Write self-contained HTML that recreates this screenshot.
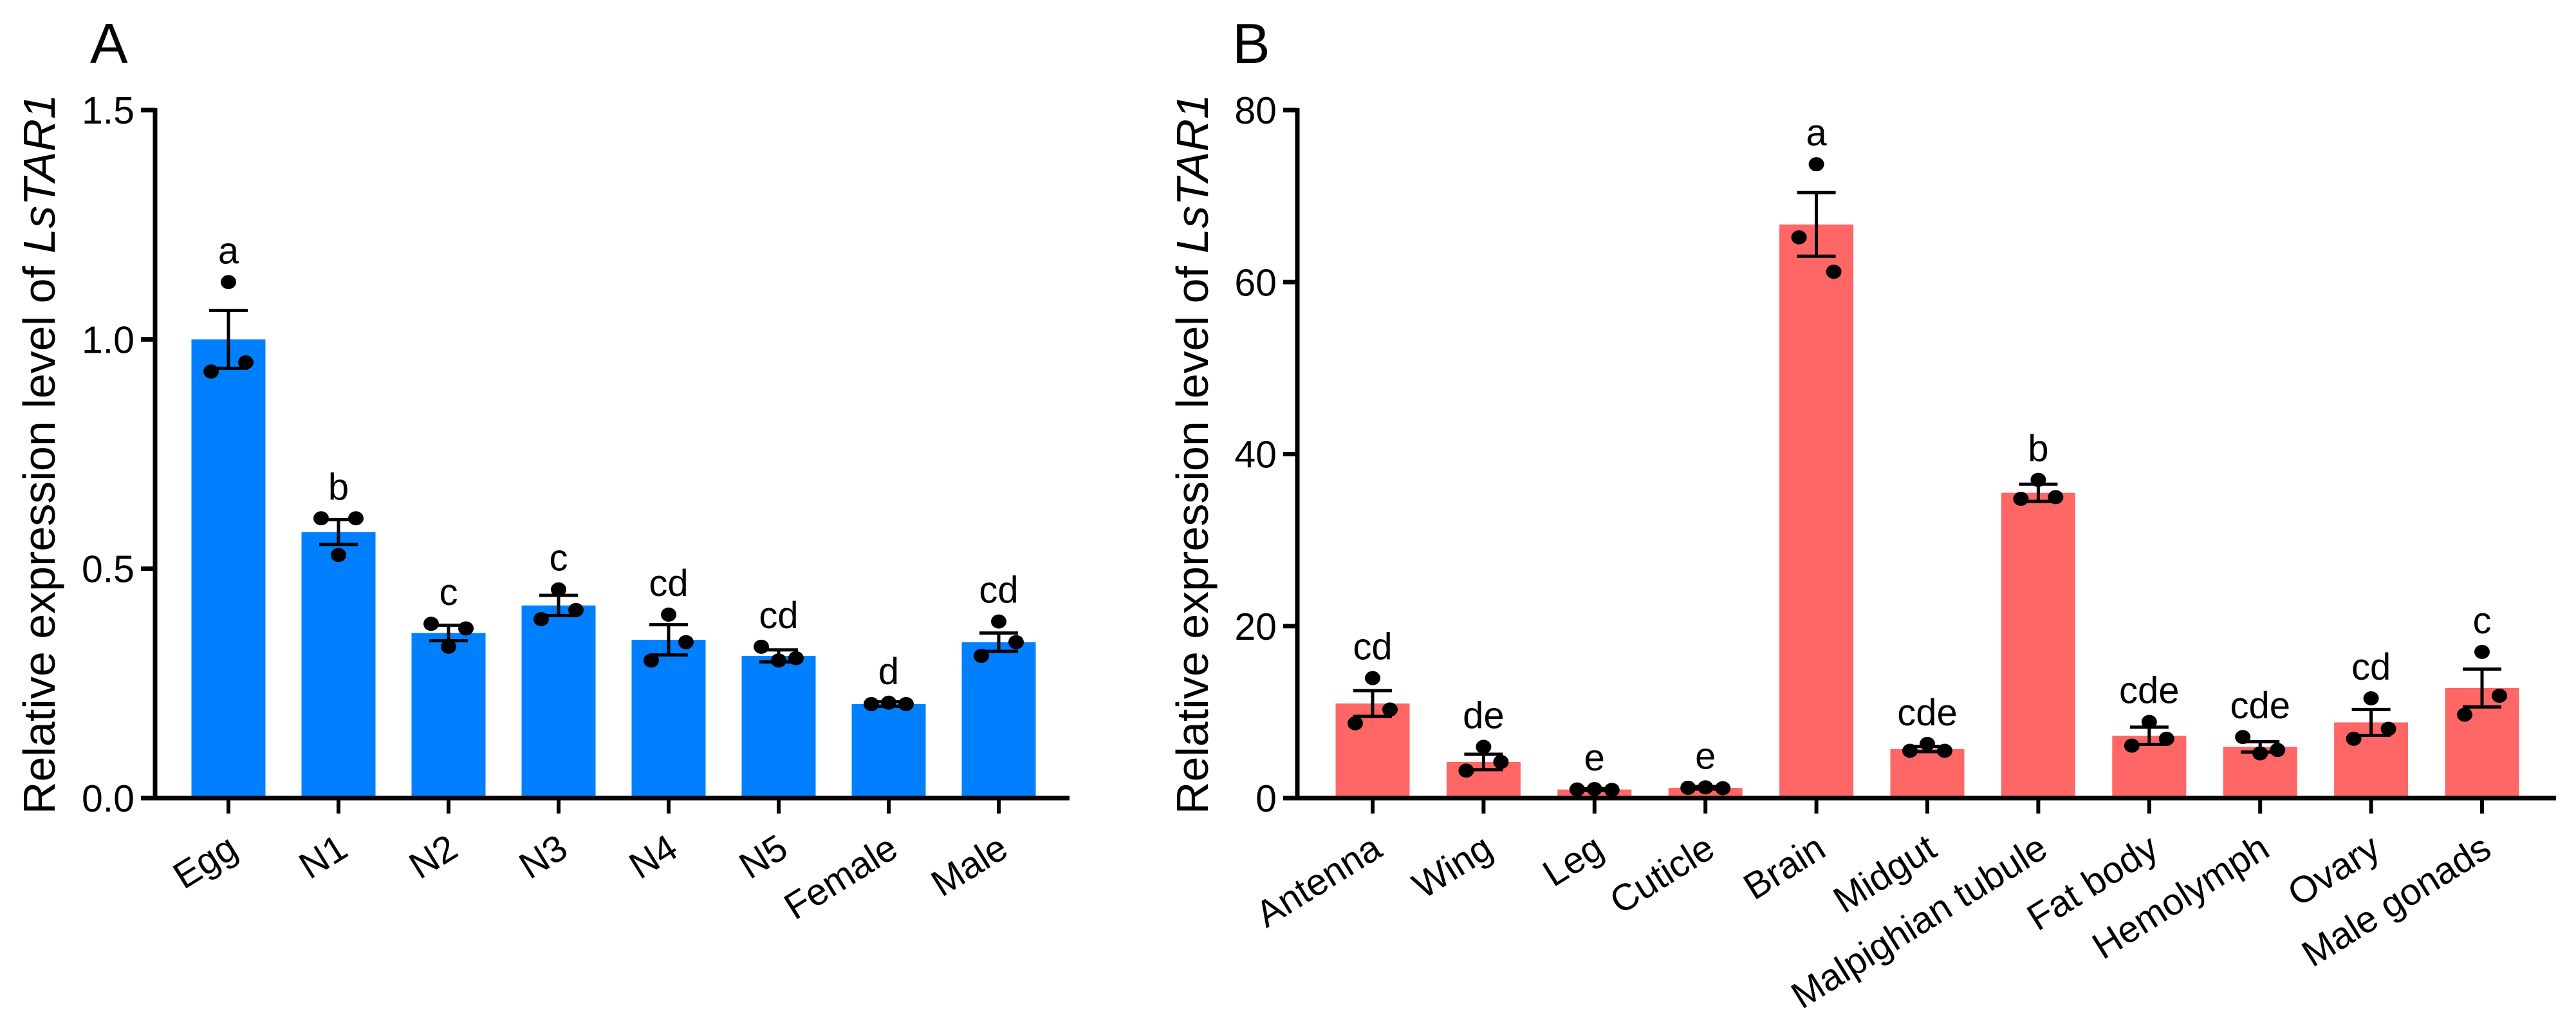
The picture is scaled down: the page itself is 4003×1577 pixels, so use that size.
<!DOCTYPE html>
<html><head><meta charset="utf-8"><style>
html,body{margin:0;padding:0;background:#fff;}
svg{display:block;font-family:"Liberation Sans",Arial,sans-serif;}
</style></head><body>
<svg id="fig" width="4003" height="1577" viewBox="0 0 4003 1577" xmlns="http://www.w3.org/2000/svg">
<rect width="4003" height="1577" fill="#fff"/>
<text x="140" y="98" font-size="88">A</text>
<text x="1915" y="98" font-size="88">B</text>
<g id="pa"></g>
<g id="pb"></g>
</svg>
<script>
// Panel A data
const catsA = ["Egg","N1","N2","N3","N4","N5","Female","Male"];
const meansA = [1.0,0.58,0.36,0.42,0.345,0.31,0.205,0.34];
const semA = [0.063,0.027,0.017,0.022,0.033,0.013,0.005,0.02];
const ptsA = [[0.93,1.125,0.95],[0.61,0.53,0.61],[0.38,0.33,0.37],[0.39,0.455,0.41],[0.30,0.40,0.34],[0.33,0.30,0.305],[0.205,0.208,0.205],[0.31,0.385,0.34]];
const lettersA = ["a","b","c","c","cd","cd","d","cd"];
const ticksA = [0,0.5,1.0,1.5];
const tickLabelsA = ["0.0","0.5","1.0","1.5"];
// Panel B data
const catsB = ["Antenna","Wing","Leg","Cuticle","Brain","Midgut","Malpighian tubule","Fat body","Hemolymph","Ovary","Male gonads"];
const meansB = [11.0,4.2,1.0,1.2,66.7,5.7,35.5,7.25,5.96,8.8,12.8];
const semB = [1.5,0.9,0.1,0.15,3.7,0.3,1.0,1.0,0.6,1.5,2.2];
const ptsB = [[8.7,13.95,10.3],[3.2,5.96,4.2],[1.0,1.05,0.95],[1.2,1.25,1.15],[65.2,73.7,61.2],[5.5,6.3,5.5],[34.8,37.0,35.0],[6.1,8.86,6.9],[7.1,5.2,5.6],[6.9,11.6,8.05],[9.7,17.0,11.9]];
const lettersB = ["cd","de","e","e","a","cde","b","cde","cde","cd","c"];
const ticksB = [0,20,40,60,80];
const tickLabelsB = ["0","20","40","60","80"];

const NS="http://www.w3.org/2000/svg";
function mk(parent,tag,attrs,text){const e=document.createElementNS(NS,tag);for(const k in attrs)e.setAttribute(k,attrs[k]);if(text!==undefined)e.textContent=text;parent.appendChild(e);return e;}

function drawPanel(g,cfg){
  const {cats,means,sem,pts,letters,ticks,tickLabels,ymax,axX,axEnd,x0,step,color,titleX}=cfg;
  const base=1240, top=171;
  const y=v=>base-(v/ymax)*(base-top);
  const x=i=>x0+i*step;
  const bw=115;
  cats.forEach((c,i)=>{
    const r=mk(g,'rect',{x:x(i)-bw/2,y:y(means[i]),width:bw,height:base-y(means[i]),fill:color});
    
    
  });
  cats.forEach((c,i)=>{
    const cx=x(i), hi=y(means[i]+sem[i]), lo=y(means[i]-sem[i]);
    const eb=mk(g,'path',{d:`M${cx},${hi}V${lo}M${cx-30},${hi}H${cx+30}M${cx-30},${lo}H${cx+30}`,stroke:'#000','stroke-width':5,fill:'none'});
    
    
    let topY=hi;
    pts[i].forEach((p,j)=>{
      const d=mk(g,'ellipse',{cx:cx+(j-1)*27,cy:y(p),rx:12,ry:11,fill:'#000'});
      
      
      topY=Math.min(topY,y(p)-11);
    });
    const t=mk(g,'text',{x:cx,y:topY-18,'font-size':58,'text-anchor':'middle'},letters[i]);
    
    
    const tk=mk(g,'line',{x1:cx,y1:base,x2:cx,y2:base+24,stroke:'#000','stroke-width':6});
    
    
    const lb=mk(g,'text',{x:0,y:0,'font-size':58,'text-anchor':'end',transform:`translate(${cx+18},${base+88}) rotate(-32)`},c);
    
    
  });
  ticks.forEach((v,k)=>{
    const tk=mk(g,'line',{x1:axX-22,y1:y(v),x2:axX,y2:y(v),stroke:'#000','stroke-width':7});
    
    
    const tl=mk(g,'text',{x:axX-32,y:y(v)+21,'font-size':59,'text-anchor':'end'},tickLabels[k]);
    
    
  });
  const ya=mk(g,'line',{x1:axX,y1:top-3,x2:axX,y2:base+3,stroke:'#000','stroke-width':7});
  
  
  const xa=mk(g,'line',{x1:axX-22,y1:base,x2:axEnd,y2:base,stroke:'#000','stroke-width':7});
  
  
  const tt=mk(g,'text',{x:0,y:0,'font-size':70,'text-anchor':'middle',transform:`translate(${titleX},${(base+top)/2}) rotate(-90)`});
  
  
  mk(tt,'tspan',{},'Relative expression level of ');
  mk(tt,'tspan',{'font-style':'italic'},'LsTAR1');
}
drawPanel(document.getElementById('pa'),{cats:catsA,means:meansA,sem:semA,pts:ptsA,letters:lettersA,ticks:ticksA,tickLabels:tickLabelsA,ymax:1.5,axX:241,axEnd:1662,x0:355,step:171,color:'#0080FF',titleX:85});
drawPanel(document.getElementById('pb'),{cats:catsB,means:meansB,sem:semB,pts:ptsB,letters:lettersB,ticks:ticksB,tickLabels:tickLabelsB,ymax:80,axX:2016,axEnd:3972,x0:2133,step:172.4,color:'#FF6666',titleX:1877});
</script>
</body></html>
